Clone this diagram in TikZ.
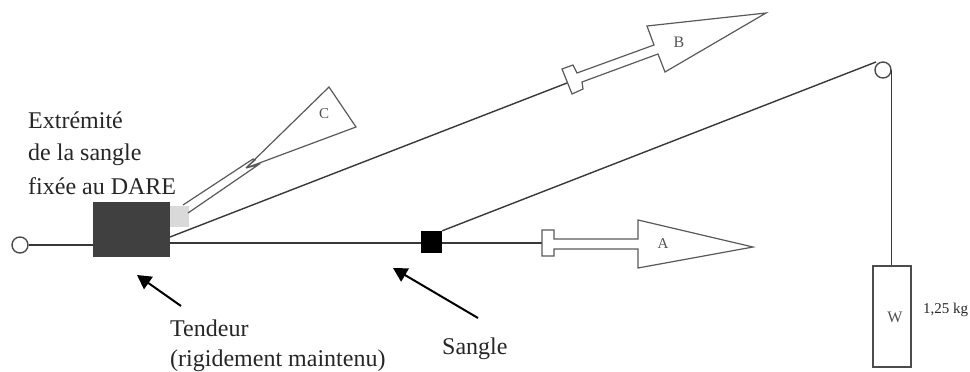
\documentclass[tikz,border=0pt]{standalone}
\usepackage{fontspec}
\usetikzlibrary{arrows.meta}
\setmainfont{Liberation Serif}
\begin{document}
\begin{tikzpicture}[x=1pt,y=-1pt,
  ln/.style={draw=black!78,line width=1.4pt},
  thinln/.style={draw=black!65,line width=1.2pt,line join=miter},
  lbl/.style={inner sep=0pt,anchor=base west,font=\fontsize{24}{24}\selectfont,text=black!85},
  tag/.style={inner sep=0pt,text=black!68},
  ringstyle/.style={circle,draw=black!70,line width=1.4pt,fill=white,minimum size=16pt,inner sep=0pt},
  pointer/.style={draw=black,line width=2pt,-{Triangle[length=14pt,width=15pt]}}]
\useasboundingbox (0,0) rectangle (970,372);
\node[ringstyle] (ring) at (20,245) {};
\node[fill=black!75,minimum width=77pt,minimum height=55pt,inner sep=0pt] (tend) at (131.5,229.5) {};
\node[fill=black!15,minimum width=19pt,minimum height=21pt,inner sep=0pt,anchor=north west] (ext) at (170,206) {};
\node[fill=black,minimum width=21pt,minimum height=22pt,inner sep=0pt] (slide) at (431.5,242) {};
\node[ringstyle] (pulley) at (883,70) {};
\node[draw=black!70,line width=1.4pt,fill=white,minimum width=38pt,minimum height=101pt,inner sep=0pt] (wt) at (892,316.5) {};
\coordinate (tendA) at (170,243);
\coordinate (tendB) at (170,237);
\coordinate (slideR) at (442,243);
\coordinate (hookA) at (542,243);
\coordinate (hookB) at (567,83);
\coordinate (pulleyT) at (876,62);
\draw[ln] (ring) -- (tend.west |- ring);
\draw[ln] (tendA) -- (slide.west |- tendA);
\draw[ln] (slideR) -- (hookA);
\draw[ln] (tendB) -- (hookB);
\draw[ln] (slide.north east) -- (pulleyT);
\draw[ln] (pulley.east) -- (wt.north -| pulley.east);
\draw[thinln] (542,230) -- (554,230) -- (554,239) -- (638,239) -- (638,220) -- (753,247) -- (638,268) -- (638,249) -- (554,249) -- (554,256) -- (542,256) -- cycle;
\draw[thinln] (562,69) -- (573,65) -- (577,73) -- (654,45) -- (647,26) -- (766,13) -- (665,72) -- (658,54) -- (582,82) -- (583,89) -- (572,94) -- cycle;
\draw[thinln] (183,205) -- (253,159) -- (255,160) -- (246,168) -- (329,87) -- (356,127) -- (246,168) -- (258,165) -- (188,213);
\node[tag,font=\fontsize{15}{15}\selectfont] (la) at (663,244) {A};
\node[tag,font=\fontsize{16}{16}\selectfont] (lb) at (679,42) {B};
\node[tag,font=\fontsize{15}{15}\selectfont] (lc) at (324,114) {C};
\node[tag,font=\fontsize{16}{16}\selectfont] (lw) at (895,317) {W};
\node[inner sep=0pt,anchor=base west,font=\fontsize{15}{15}\selectfont,text=black!85] (mass) at (923,313) {1,25 kg};
\node[lbl] (t1) at (28,128) {Extrémité};
\node[lbl] (t2) at (28,160) {de la sangle};
\node[lbl] (t3) at (28,194) {fixée au DARE};
\node[lbl] (t4) at (170,336) {Tendeur};
\node[lbl] (t5) at (170,366) {(rigidement maintenu)};
\node[lbl] (t6) at (442,354) {Sangle};
\coordinate (pa) at (181,306);
\coordinate (pb) at (137,275);
\coordinate (pc) at (478,318);
\coordinate (pd) at (393,268);
\draw[pointer] (pa) -- (pb);
\draw[pointer] (pc) -- (pd);
\end{tikzpicture}
\end{document}
